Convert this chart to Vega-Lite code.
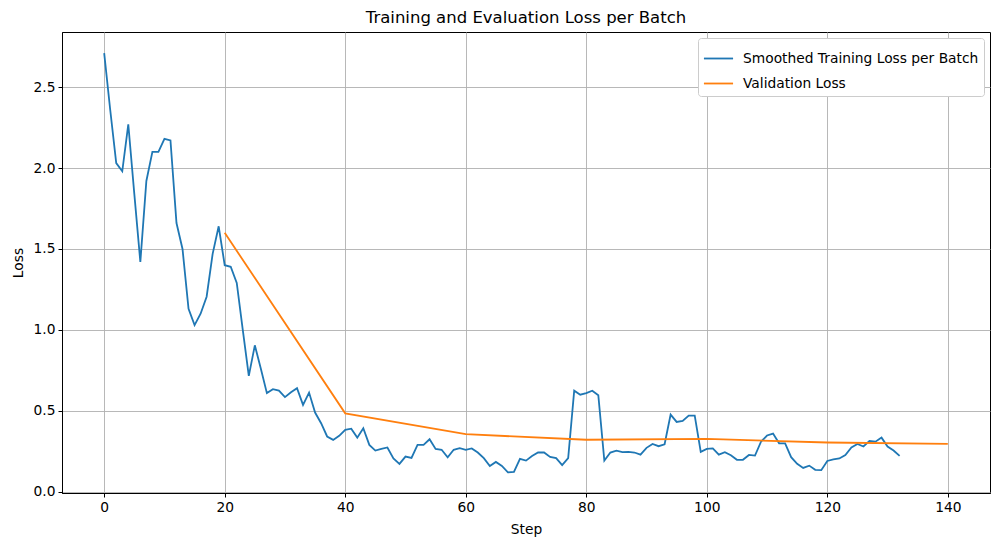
{
  "$schema": "https://vega.github.io/schema/vega-lite/v6.json",
  "width": 928,
  "height": 461,
  "autosize": {"type": "none"},
  "padding": {"left": 62, "top": 32, "right": 11, "bottom": 54},
  "background": "white",
  "config": {
    "font": "DejaVu Sans",
    "view": {"stroke": "black", "strokeWidth": 1},
    "axis": {
      "labelFont": "DejaVu Sans",
      "titleFont": "DejaVu Sans",
      "labelFontSize": 13.8,
      "titleFontSize": 13.8,
      "titleFontWeight": "normal",
      "labelColor": "black",
      "titleColor": "black",
      "domainColor": "black",
      "tickColor": "black",
      "tickSize": 4,
      "labelPadding": 3,
      "gridColor": "#b0b0b0",
      "gridWidth": 0.9,
      "gridOpacity": 1
    }
  },
  "title": {
    "text": "Training and Evaluation Loss per Batch",
    "fontSize": 16.5,
    "fontWeight": "normal",
    "font": "DejaVu Sans",
    "color": "black",
    "offset": 6
  },
  "data": {
    "values": [
      {"step": 0, "loss": 2.71, "series": "Smoothed Training Loss per Batch"},
      {"step": 1, "loss": 2.36, "series": "Smoothed Training Loss per Batch"},
      {"step": 2, "loss": 2.03, "series": "Smoothed Training Loss per Batch"},
      {"step": 3, "loss": 1.98, "series": "Smoothed Training Loss per Batch"},
      {"step": 4, "loss": 2.27, "series": "Smoothed Training Loss per Batch"},
      {"step": 5, "loss": 1.84, "series": "Smoothed Training Loss per Batch"},
      {"step": 6, "loss": 1.42, "series": "Smoothed Training Loss per Batch"},
      {"step": 7, "loss": 1.92, "series": "Smoothed Training Loss per Batch"},
      {"step": 8, "loss": 2.10, "series": "Smoothed Training Loss per Batch"},
      {"step": 9, "loss": 2.10, "series": "Smoothed Training Loss per Batch"},
      {"step": 10, "loss": 2.18, "series": "Smoothed Training Loss per Batch"},
      {"step": 11, "loss": 2.17, "series": "Smoothed Training Loss per Batch"},
      {"step": 12, "loss": 1.66, "series": "Smoothed Training Loss per Batch"},
      {"step": 13, "loss": 1.50, "series": "Smoothed Training Loss per Batch"},
      {"step": 14, "loss": 1.13, "series": "Smoothed Training Loss per Batch"},
      {"step": 15, "loss": 1.03, "series": "Smoothed Training Loss per Batch"},
      {"step": 16, "loss": 1.10, "series": "Smoothed Training Loss per Batch"},
      {"step": 17, "loss": 1.205, "series": "Smoothed Training Loss per Batch"},
      {"step": 18, "loss": 1.47, "series": "Smoothed Training Loss per Batch"},
      {"step": 19, "loss": 1.64, "series": "Smoothed Training Loss per Batch"},
      {"step": 20, "loss": 1.40, "series": "Smoothed Training Loss per Batch"},
      {"step": 21, "loss": 1.39, "series": "Smoothed Training Loss per Batch"},
      {"step": 22, "loss": 1.29, "series": "Smoothed Training Loss per Batch"},
      {"step": 23, "loss": 1.00, "series": "Smoothed Training Loss per Batch"},
      {"step": 24, "loss": 0.716, "series": "Smoothed Training Loss per Batch"},
      {"step": 25, "loss": 0.905, "series": "Smoothed Training Loss per Batch"},
      {"step": 26, "loss": 0.76, "series": "Smoothed Training Loss per Batch"},
      {"step": 27, "loss": 0.61, "series": "Smoothed Training Loss per Batch"},
      {"step": 28, "loss": 0.634, "series": "Smoothed Training Loss per Batch"},
      {"step": 29, "loss": 0.625, "series": "Smoothed Training Loss per Batch"},
      {"step": 30, "loss": 0.585, "series": "Smoothed Training Loss per Batch"},
      {"step": 31, "loss": 0.615, "series": "Smoothed Training Loss per Batch"},
      {"step": 32, "loss": 0.64, "series": "Smoothed Training Loss per Batch"},
      {"step": 33, "loss": 0.537, "series": "Smoothed Training Loss per Batch"},
      {"step": 34, "loss": 0.613, "series": "Smoothed Training Loss per Batch"},
      {"step": 35, "loss": 0.49, "series": "Smoothed Training Loss per Batch"},
      {"step": 36, "loss": 0.424, "series": "Smoothed Training Loss per Batch"},
      {"step": 37, "loss": 0.342, "series": "Smoothed Training Loss per Batch"},
      {"step": 38, "loss": 0.321, "series": "Smoothed Training Loss per Batch"},
      {"step": 39, "loss": 0.346, "series": "Smoothed Training Loss per Batch"},
      {"step": 40, "loss": 0.383, "series": "Smoothed Training Loss per Batch"},
      {"step": 41, "loss": 0.39, "series": "Smoothed Training Loss per Batch"},
      {"step": 42, "loss": 0.335, "series": "Smoothed Training Loss per Batch"},
      {"step": 43, "loss": 0.393, "series": "Smoothed Training Loss per Batch"},
      {"step": 44, "loss": 0.29, "series": "Smoothed Training Loss per Batch"},
      {"step": 45, "loss": 0.255, "series": "Smoothed Training Loss per Batch"},
      {"step": 46, "loss": 0.265, "series": "Smoothed Training Loss per Batch"},
      {"step": 47, "loss": 0.274, "series": "Smoothed Training Loss per Batch"},
      {"step": 48, "loss": 0.206, "series": "Smoothed Training Loss per Batch"},
      {"step": 49, "loss": 0.173, "series": "Smoothed Training Loss per Batch"},
      {"step": 50, "loss": 0.218, "series": "Smoothed Training Loss per Batch"},
      {"step": 51, "loss": 0.21, "series": "Smoothed Training Loss per Batch"},
      {"step": 52, "loss": 0.29, "series": "Smoothed Training Loss per Batch"},
      {"step": 53, "loss": 0.29, "series": "Smoothed Training Loss per Batch"},
      {"step": 54, "loss": 0.325, "series": "Smoothed Training Loss per Batch"},
      {"step": 55, "loss": 0.265, "series": "Smoothed Training Loss per Batch"},
      {"step": 56, "loss": 0.26, "series": "Smoothed Training Loss per Batch"},
      {"step": 57, "loss": 0.214, "series": "Smoothed Training Loss per Batch"},
      {"step": 58, "loss": 0.26, "series": "Smoothed Training Loss per Batch"},
      {"step": 59, "loss": 0.27, "series": "Smoothed Training Loss per Batch"},
      {"step": 60, "loss": 0.26, "series": "Smoothed Training Loss per Batch"},
      {"step": 61, "loss": 0.268, "series": "Smoothed Training Loss per Batch"},
      {"step": 62, "loss": 0.243, "series": "Smoothed Training Loss per Batch"},
      {"step": 63, "loss": 0.208, "series": "Smoothed Training Loss per Batch"},
      {"step": 64, "loss": 0.16, "series": "Smoothed Training Loss per Batch"},
      {"step": 65, "loss": 0.185, "series": "Smoothed Training Loss per Batch"},
      {"step": 66, "loss": 0.16, "series": "Smoothed Training Loss per Batch"},
      {"step": 67, "loss": 0.12, "series": "Smoothed Training Loss per Batch"},
      {"step": 68, "loss": 0.123, "series": "Smoothed Training Loss per Batch"},
      {"step": 69, "loss": 0.204, "series": "Smoothed Training Loss per Batch"},
      {"step": 70, "loss": 0.193, "series": "Smoothed Training Loss per Batch"},
      {"step": 71, "loss": 0.222, "series": "Smoothed Training Loss per Batch"},
      {"step": 72, "loss": 0.243, "series": "Smoothed Training Loss per Batch"},
      {"step": 73, "loss": 0.243, "series": "Smoothed Training Loss per Batch"},
      {"step": 74, "loss": 0.216, "series": "Smoothed Training Loss per Batch"},
      {"step": 75, "loss": 0.208, "series": "Smoothed Training Loss per Batch"},
      {"step": 76, "loss": 0.165, "series": "Smoothed Training Loss per Batch"},
      {"step": 77, "loss": 0.208, "series": "Smoothed Training Loss per Batch"},
      {"step": 78, "loss": 0.625, "series": "Smoothed Training Loss per Batch"},
      {"step": 79, "loss": 0.60, "series": "Smoothed Training Loss per Batch"},
      {"step": 80, "loss": 0.61, "series": "Smoothed Training Loss per Batch"},
      {"step": 81, "loss": 0.625, "series": "Smoothed Training Loss per Batch"},
      {"step": 82, "loss": 0.597, "series": "Smoothed Training Loss per Batch"},
      {"step": 83, "loss": 0.193, "series": "Smoothed Training Loss per Batch"},
      {"step": 84, "loss": 0.243, "series": "Smoothed Training Loss per Batch"},
      {"step": 85, "loss": 0.255, "series": "Smoothed Training Loss per Batch"},
      {"step": 86, "loss": 0.245, "series": "Smoothed Training Loss per Batch"},
      {"step": 87, "loss": 0.247, "series": "Smoothed Training Loss per Batch"},
      {"step": 88, "loss": 0.243, "series": "Smoothed Training Loss per Batch"},
      {"step": 89, "loss": 0.23, "series": "Smoothed Training Loss per Batch"},
      {"step": 90, "loss": 0.272, "series": "Smoothed Training Loss per Batch"},
      {"step": 91, "loss": 0.296, "series": "Smoothed Training Loss per Batch"},
      {"step": 92, "loss": 0.282, "series": "Smoothed Training Loss per Batch"},
      {"step": 93, "loss": 0.294, "series": "Smoothed Training Loss per Batch"},
      {"step": 94, "loss": 0.477, "series": "Smoothed Training Loss per Batch"},
      {"step": 95, "loss": 0.432, "series": "Smoothed Training Loss per Batch"},
      {"step": 96, "loss": 0.438, "series": "Smoothed Training Loss per Batch"},
      {"step": 97, "loss": 0.471, "series": "Smoothed Training Loss per Batch"},
      {"step": 98, "loss": 0.471, "series": "Smoothed Training Loss per Batch"},
      {"step": 99, "loss": 0.247, "series": "Smoothed Training Loss per Batch"},
      {"step": 100, "loss": 0.265, "series": "Smoothed Training Loss per Batch"},
      {"step": 101, "loss": 0.268, "series": "Smoothed Training Loss per Batch"},
      {"step": 102, "loss": 0.23, "series": "Smoothed Training Loss per Batch"},
      {"step": 103, "loss": 0.245, "series": "Smoothed Training Loss per Batch"},
      {"step": 104, "loss": 0.226, "series": "Smoothed Training Loss per Batch"},
      {"step": 105, "loss": 0.198, "series": "Smoothed Training Loss per Batch"},
      {"step": 106, "loss": 0.198, "series": "Smoothed Training Loss per Batch"},
      {"step": 107, "loss": 0.228, "series": "Smoothed Training Loss per Batch"},
      {"step": 108, "loss": 0.224, "series": "Smoothed Training Loss per Batch"},
      {"step": 109, "loss": 0.31, "series": "Smoothed Training Loss per Batch"},
      {"step": 110, "loss": 0.348, "series": "Smoothed Training Loss per Batch"},
      {"step": 111, "loss": 0.36, "series": "Smoothed Training Loss per Batch"},
      {"step": 112, "loss": 0.30, "series": "Smoothed Training Loss per Batch"},
      {"step": 113, "loss": 0.30, "series": "Smoothed Training Loss per Batch"},
      {"step": 114, "loss": 0.214, "series": "Smoothed Training Loss per Batch"},
      {"step": 115, "loss": 0.173, "series": "Smoothed Training Loss per Batch"},
      {"step": 116, "loss": 0.148, "series": "Smoothed Training Loss per Batch"},
      {"step": 117, "loss": 0.162, "series": "Smoothed Training Loss per Batch"},
      {"step": 118, "loss": 0.136, "series": "Smoothed Training Loss per Batch"},
      {"step": 119, "loss": 0.134, "series": "Smoothed Training Loss per Batch"},
      {"step": 120, "loss": 0.191, "series": "Smoothed Training Loss per Batch"},
      {"step": 121, "loss": 0.20, "series": "Smoothed Training Loss per Batch"},
      {"step": 122, "loss": 0.206, "series": "Smoothed Training Loss per Batch"},
      {"step": 123, "loss": 0.228, "series": "Smoothed Training Loss per Batch"},
      {"step": 124, "loss": 0.274, "series": "Smoothed Training Loss per Batch"},
      {"step": 125, "loss": 0.296, "series": "Smoothed Training Loss per Batch"},
      {"step": 126, "loss": 0.28, "series": "Smoothed Training Loss per Batch"},
      {"step": 127, "loss": 0.315, "series": "Smoothed Training Loss per Batch"},
      {"step": 128, "loss": 0.31, "series": "Smoothed Training Loss per Batch"},
      {"step": 129, "loss": 0.335, "series": "Smoothed Training Loss per Batch"},
      {"step": 130, "loss": 0.28, "series": "Smoothed Training Loss per Batch"},
      {"step": 131, "loss": 0.255, "series": "Smoothed Training Loss per Batch"},
      {"step": 132, "loss": 0.222, "series": "Smoothed Training Loss per Batch"},
      {"step": 20, "loss": 1.60, "series": "Validation Loss"},
      {"step": 40, "loss": 0.485, "series": "Validation Loss"},
      {"step": 60, "loss": 0.356, "series": "Validation Loss"},
      {"step": 80, "loss": 0.322, "series": "Validation Loss"},
      {"step": 100, "loss": 0.327, "series": "Validation Loss"},
      {"step": 120, "loss": 0.305, "series": "Validation Loss"},
      {"step": 140, "loss": 0.297, "series": "Validation Loss"}
    ]
  },
  "mark": {"type": "line", "strokeWidth": 1.8, "clip": true},
  "encoding": {
    "x": {
      "field": "step",
      "type": "quantitative",
      "title": "Step",
      "scale": {"domain": [-7, 147], "nice": false, "zero": false},
      "axis": {"values": [0, 20, 40, 60, 80, 100, 120, 140], "grid": true, "titlePadding": 9}
    },
    "y": {
      "field": "loss",
      "type": "quantitative",
      "title": "Loss",
      "scale": {"domain": [-0.007, 2.84], "nice": false, "zero": false},
      "axis": {"values": [0, 0.5, 1, 1.5, 2, 2.5], "format": ".1f", "grid": true, "titlePadding": 8}
    },
    "color": {
      "field": "series",
      "type": "nominal",
      "scale": {
        "domain": ["Smoothed Training Loss per Batch", "Validation Loss"],
        "range": ["#1f77b4", "#ff7f0e"]
      },
      "legend": {
        "title": null,
        "orient": "top-right",
        "offset": 6,
        "symbolType": "stroke",
        "symbolStrokeWidth": 1.8,
        "symbolSize": 850,
        "symbolOffset": 0,
        "labelOffset": 9,
        "labelFontSize": 13.8,
        "labelFont": "DejaVu Sans",
        "labelColor": "black",
        "labelLimit": 400,
        "padding": 5,
        "rowPadding": 2,
        "strokeColor": "#cccccc",
        "fillColor": "white",
        "cornerRadius": 3
      }
    }
  }
}
